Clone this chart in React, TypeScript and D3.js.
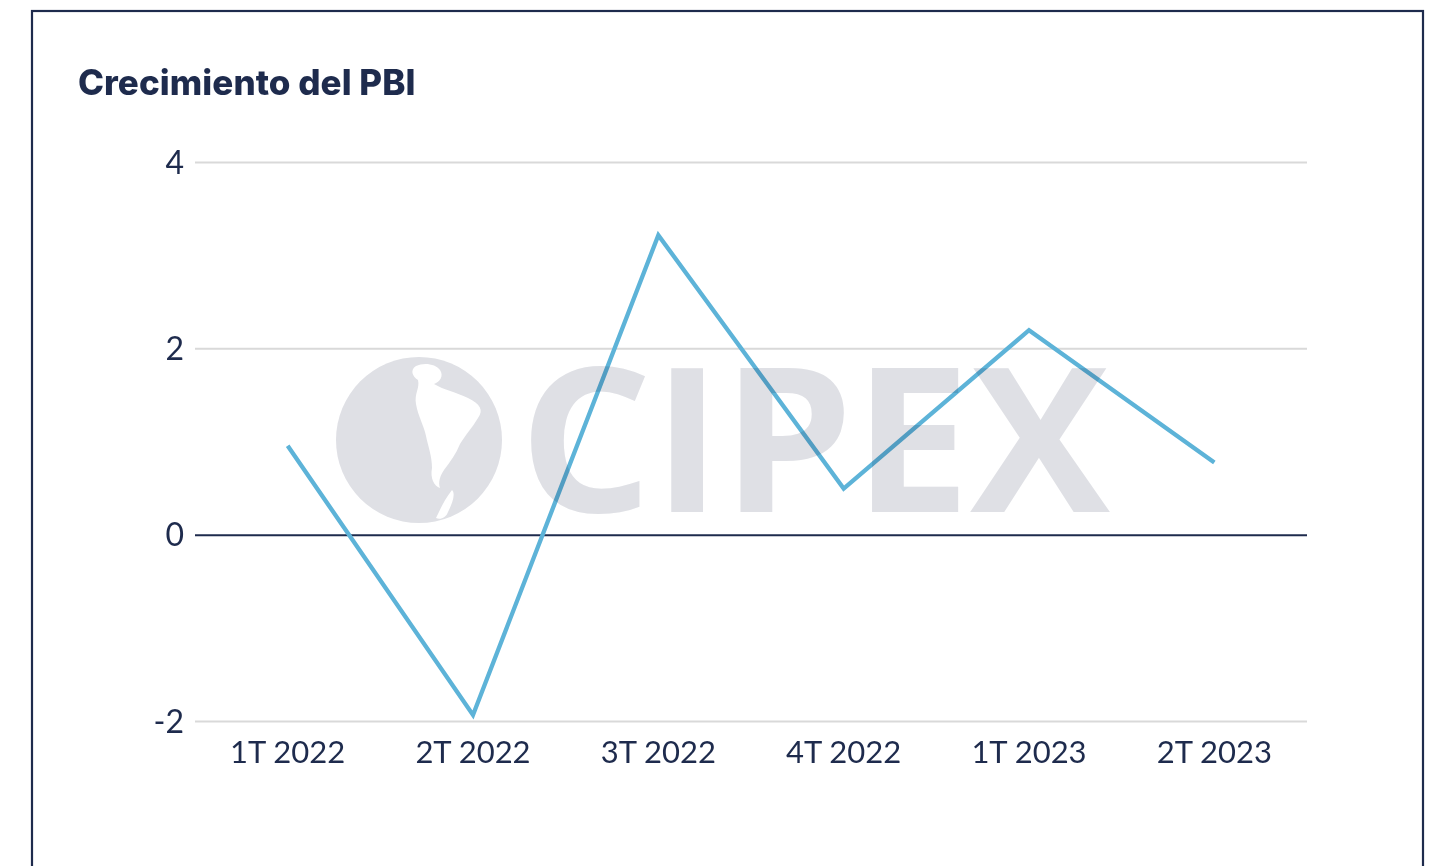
import React from "react";
import * as d3 from "d3";

const categories = ["1T 2022", "2T 2022", "3T 2022", "4T 2022", "1T 2023", "2T 2023"];
const values = [0.96, -1.93, 3.22, 0.5, 2.2, 0.78];
const yTicks = [-2, 0, 2, 4];
const title = "Crecimiento del PBI";
const watermark = "CIPEX";

const W = 1436;
const H = 866;
const navy = "#1e2b4d";

export default function App() {
  const x = d3.scalePoint<string>().domain(categories).range([195, 1307]).padding(0.5);
  const y = d3.scaleLinear().domain([-2, 4]).range([721.5, 162.5]);
  const line = d3
    .line<number>()
    .x((_, i) => x(categories[i]) as number)
    .y((d) => y(d));

  const gx0 = 195;
  const gx1 = 1307;
  const wmFill = "#dfe0e5";

  return (
    <svg
      width={W}
      height={H}
      style={{ position: "fixed", left: 0, top: 0, background: "#fff" }}
    >
      <rect x={0} y={0} width={W} height={H} fill="#fff" />
      <rect x={32} y={11} width={1391} height={H + 20} fill="none" stroke={navy} strokeWidth={2.2} />
      <text
        x={78}
        y={95}
        fontFamily="Inter, Lato, sans-serif"
        fontWeight={800}
        fontSize={35}
        letterSpacing={-0.5}
        fill={navy}
        textLength={337}
        lengthAdjust="spacing"
      >
        {title}
      </text>

      {yTicks.map((t) => (
        <g key={t}>
          <line
            x1={gx0}
            x2={gx1}
            y1={y(t)}
            y2={y(t)}
            stroke={t === 0 ? navy : "#d9d9d9"}
            strokeWidth={2}
          />
          <text
            x={184}
            y={y(t) + 11}
            textAnchor="end"
            fontFamily="Lato, 'Open Sans', sans-serif"
            fontSize={32}
            fill={navy}
          >
            {t}
          </text>
        </g>
      ))}

      {categories.map((c) => (
        <text
          key={c}
          x={x(c) as number}
          y={763}
          textAnchor="middle"
          fontFamily="Lato, 'Open Sans', sans-serif"
          fontSize={31}
          fill={navy}
        >
          {c}
        </text>
      ))}

      <path d={line(values) || ""} fill="none" stroke="#5db3d8" strokeWidth={4.3} strokeLinejoin="miter" />

      <g style={{ mixBlendMode: "multiply" }}>
        <circle cx={419} cy={440} r={83} fill={wmFill} />
        <path
          d="M 416 366 C 424 362 436 364 440 370 C 444 376 440 382 434 384 C 444 390 456 392 468 398 C 480 404 484 410 478 418 C 472 428 466 434 460 444 C 456 454 450 462 444 470 C 440 476 438 482 440 488 C 434 486 430 478 432 468 C 432 456 428 446 426 436 C 424 426 418 416 416 404 C 414 394 420 388 418 380 C 412 376 410 370 416 366 Z"
          fill="#fff"
        />
        <path d="M 452 490 C 456 494 452 504 448 512 C 446 518 440 520 436 518 C 440 510 444 500 452 490 Z" fill="#fff" />
        <text
          x={519}
          y={512}
          fontFamily="'Open Sans', Lato, sans-serif"
          fontSize={202}
          fontWeight={700}
          fill={wmFill}
          textLength={591}
          lengthAdjust="spacingAndGlyphs"
        >
          {watermark}
        </text>
      </g>
    </svg>
  );
}
